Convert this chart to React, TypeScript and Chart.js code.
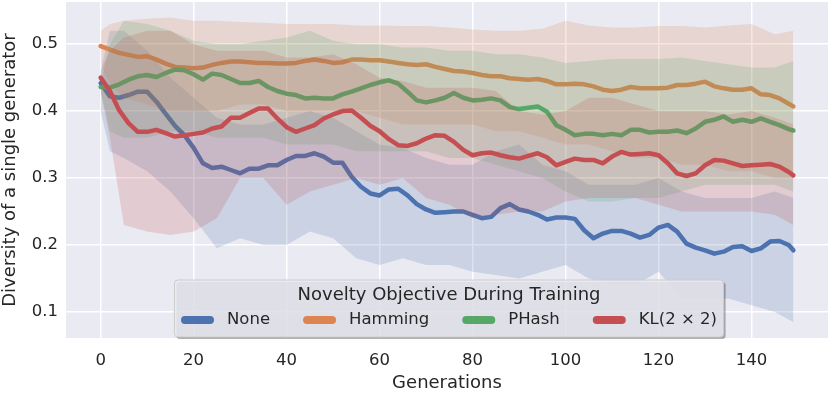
import React, { useEffect, useRef } from 'react';
import { Chart, registerables } from 'chart.js';

Chart.register(...registerables);

// ---------- data ----------
const seriesNames = ['None', 'Hamming', 'PHash', 'KL(2 × 2)'];
const seriesColors = ['#4C72B0', '#DD8452', '#55A868', '#C44E52'];
const xTicks = [0, 20, 40, 60, 80, 100, 120, 140];
const yTicks = [0.1, 0.2, 0.3, 0.4, 0.5];

const lineGens = [
  0, 2, 4, 6, 8, 10, 12, 14, 16, 18, 20, 22, 24, 26, 28, 30, 32, 34, 36, 38,
  40, 42, 44, 46, 48, 50, 52, 54, 56, 58, 60, 62, 64, 66, 68, 70, 72, 74, 76, 78,
  80, 82, 84, 86, 88, 90, 92, 94, 96, 98, 100, 102, 104, 106, 108, 110, 112, 114, 116, 118,
  120, 122, 124, 126, 128, 130, 132, 134, 136, 138, 140, 142, 144, 146, 148, 149,
];

const noneMean = [
  0.442, 0.422, 0.420, 0.424, 0.429, 0.429, 0.414, 0.396, 0.378, 0.364, 0.345, 0.322, 0.315, 0.317, 0.312, 0.307, 0.314, 0.314, 0.319, 0.319,
  0.327, 0.333, 0.333, 0.337, 0.332, 0.323, 0.323, 0.302, 0.287, 0.277, 0.274, 0.283, 0.284, 0.274, 0.261, 0.253, 0.248, 0.249, 0.250, 0.250,
  0.245, 0.240, 0.242, 0.255, 0.261, 0.253, 0.250, 0.245, 0.238, 0.241, 0.241, 0.239, 0.222, 0.210, 0.217, 0.221, 0.221, 0.217, 0.211, 0.215,
  0.226, 0.230, 0.220, 0.202, 0.196, 0.192, 0.187, 0.190, 0.197, 0.198, 0.191, 0.195, 0.205, 0.206, 0.200, 0.192,
];
const hammingMean = [
  0.497, 0.492, 0.487, 0.484, 0.481, 0.482, 0.477, 0.471, 0.466, 0.465, 0.464, 0.465, 0.469, 0.472, 0.474, 0.474, 0.473, 0.472, 0.472, 0.471,
  0.471, 0.472, 0.475, 0.477, 0.475, 0.472, 0.473, 0.477, 0.477, 0.476, 0.476, 0.474, 0.472, 0.470, 0.469, 0.470, 0.466, 0.463, 0.460, 0.459,
  0.457, 0.454, 0.452, 0.452, 0.449, 0.448, 0.447, 0.448, 0.445, 0.440, 0.440, 0.441, 0.440, 0.437, 0.432, 0.430, 0.432, 0.436, 0.434, 0.434,
  0.434, 0.435, 0.439, 0.439, 0.441, 0.444, 0.437, 0.434, 0.432, 0.432, 0.434, 0.425, 0.424, 0.419, 0.411, 0.407,
];
const phashMean = [
  0.436, 0.435, 0.440, 0.447, 0.452, 0.454, 0.451, 0.457, 0.462, 0.461, 0.455, 0.447, 0.456, 0.454, 0.448, 0.442, 0.442, 0.445, 0.436, 0.430,
  0.426, 0.424, 0.419, 0.420, 0.419, 0.419, 0.425, 0.429, 0.434, 0.439, 0.443, 0.446, 0.441, 0.429, 0.416, 0.413, 0.416, 0.420, 0.427, 0.420,
  0.416, 0.417, 0.419, 0.416, 0.406, 0.403, 0.405, 0.407, 0.399, 0.379, 0.372, 0.364, 0.366, 0.366, 0.364, 0.366, 0.364, 0.372, 0.372, 0.368,
  0.369, 0.369, 0.371, 0.367, 0.374, 0.384, 0.387, 0.392, 0.384, 0.387, 0.384, 0.389, 0.384, 0.379, 0.373, 0.371,
];
const klMean = [
  0.450, 0.430, 0.401, 0.382, 0.369, 0.369, 0.372, 0.367, 0.362, 0.364, 0.366, 0.368, 0.374, 0.377, 0.390, 0.390, 0.397, 0.404, 0.404, 0.389,
  0.376, 0.369, 0.374, 0.379, 0.389, 0.395, 0.400, 0.401, 0.390, 0.378, 0.370, 0.358, 0.349, 0.348, 0.352, 0.359, 0.364, 0.363, 0.354, 0.342,
  0.334, 0.337, 0.338, 0.334, 0.331, 0.329, 0.333, 0.337, 0.331, 0.319, 0.324, 0.329, 0.327, 0.327, 0.322, 0.332, 0.339, 0.335, 0.336, 0.337,
  0.334, 0.322, 0.307, 0.303, 0.307, 0.319, 0.327, 0.326, 0.322, 0.318, 0.319, 0.320, 0.321, 0.317, 0.309, 0.304,
];

const bandGens = [0, 2, 5, 10, 15, 20, 25, 30, 35, 40, 45, 50, 55, 60, 65, 70, 75, 80, 85, 90, 95, 100, 105, 110, 115, 120, 125, 130, 135, 140, 145, 149];

const noneUpper = [0.46, 0.52, 0.52, 0.49, 0.45, 0.42, 0.39, 0.38, 0.38, 0.39, 0.40, 0.39, 0.37, 0.35, 0.345, 0.33, 0.32, 0.32, 0.34, 0.35, 0.32, 0.31, 0.29, 0.29, 0.29, 0.30, 0.28, 0.27, 0.27, 0.27, 0.28, 0.27];
const noneLower = [0.40, 0.34, 0.33, 0.31, 0.28, 0.24, 0.195, 0.21, 0.20, 0.20, 0.22, 0.21, 0.18, 0.17, 0.18, 0.17, 0.17, 0.16, 0.155, 0.15, 0.16, 0.17, 0.15, 0.14, 0.14, 0.16, 0.12, 0.12, 0.12, 0.11, 0.10, 0.085];
const hammingUpper = [0.52, 0.53, 0.535, 0.538, 0.54, 0.535, 0.535, 0.533, 0.532, 0.53, 0.53, 0.53, 0.528, 0.528, 0.527, 0.527, 0.525, 0.522, 0.52, 0.52, 0.523, 0.535, 0.528, 0.525, 0.525, 0.527, 0.527, 0.525, 0.528, 0.53, 0.515, 0.52];
const hammingLower = [0.47, 0.44, 0.42, 0.41, 0.40, 0.40, 0.40, 0.41, 0.41, 0.40, 0.40, 0.40, 0.40, 0.39, 0.38, 0.38, 0.38, 0.38, 0.37, 0.37, 0.36, 0.35, 0.35, 0.34, 0.33, 0.33, 0.32, 0.32, 0.31, 0.31, 0.30, 0.30];
const phashUpper = [0.44, 0.50, 0.535, 0.53, 0.52, 0.505, 0.50, 0.50, 0.505, 0.51, 0.52, 0.505, 0.50, 0.50, 0.495, 0.495, 0.49, 0.49, 0.485, 0.485, 0.48, 0.472, 0.475, 0.478, 0.478, 0.478, 0.48, 0.475, 0.47, 0.465, 0.465, 0.475];
const phashLower = [0.43, 0.37, 0.36, 0.36, 0.37, 0.37, 0.36, 0.36, 0.36, 0.35, 0.35, 0.35, 0.34, 0.34, 0.34, 0.34, 0.33, 0.33, 0.32, 0.31, 0.30, 0.28, 0.265, 0.265, 0.27, 0.27, 0.28, 0.29, 0.29, 0.29, 0.29, 0.28];
const klUpper = [0.46, 0.49, 0.51, 0.52, 0.52, 0.50, 0.49, 0.49, 0.49, 0.48, 0.48, 0.485, 0.47, 0.45, 0.445, 0.435, 0.435, 0.435, 0.43, 0.40, 0.395, 0.40, 0.42, 0.42, 0.41, 0.40, 0.40, 0.40, 0.395, 0.40, 0.39, 0.38];
const klLower = [0.43, 0.36, 0.23, 0.22, 0.215, 0.22, 0.24, 0.30, 0.30, 0.26, 0.28, 0.29, 0.30, 0.29, 0.30, 0.27, 0.26, 0.24, 0.245, 0.25, 0.25, 0.265, 0.27, 0.27, 0.27, 0.26, 0.25, 0.25, 0.25, 0.25, 0.245, 0.23];

const means = [noneMean, hammingMean, phashMean, klMean];
const uppers = [noneUpper, hammingUpper, phashUpper, klUpper];
const lowers = [noneLower, hammingLower, phashLower, klLower];

const TEXT = '#262626';
const FONT = '"DejaVu Sans", sans-serif';

function hexA(hex: string, a: number) {
  const n = parseInt(hex.slice(1), 16);
  return `rgba(${(n >> 16) & 255},${(n >> 8) & 255},${n & 255},${a})`;
}

const bgPlugin = {
  id: 'bgPlugin',
  beforeDraw(chart: any) {
    const { ctx, chartArea } = chart;
    ctx.save();
    ctx.fillStyle = '#ffffff';
    ctx.fillRect(0, 0, chart.width, chart.height);
    ctx.fillStyle = '#EAEAF2';
    ctx.fillRect(chartArea.left, chartArea.top, chartArea.right - chartArea.left, chartArea.bottom - chartArea.top);
    ctx.restore();
  },
};

function roundRect(ctx: CanvasRenderingContext2D, x: number, y: number, w: number, h: number, r: number) {
  ctx.beginPath();
  ctx.moveTo(x + r, y);
  ctx.lineTo(x + w - r, y);
  ctx.quadraticCurveTo(x + w, y, x + w, y + r);
  ctx.lineTo(x + w, y + h - r);
  ctx.quadraticCurveTo(x + w, y + h, x + w - r, y + h);
  ctx.lineTo(x + r, y + h);
  ctx.quadraticCurveTo(x, y + h, x, y + h - r);
  ctx.lineTo(x, y + r);
  ctx.quadraticCurveTo(x, y, x + r, y);
  ctx.closePath();
}

const legendPlugin = {
  id: 'legendPlugin',
  afterDatasetsDraw(chart: any) {
    const { ctx, chartArea } = chart;
    const fs = 16.5;
    const titleFs = 18;
    const handleLen = 33;
    const handlePad = 13;
    const colSpacing = 33;
    const borderPad = 6.6;
    ctx.save();
    ctx.font = `${fs}px ${FONT}`;
    const widths = seriesNames.map((n) => ctx.measureText(n).width);
    const contentW = widths.reduce((s, w) => s + w + handleLen + handlePad, 0) + colSpacing * (seriesNames.length - 1);
    const boxW = contentW + borderPad * 2;
    const cx = (chartArea.left + chartArea.right) / 2 + 2;
    const boxX = cx - boxW / 2;
    const boxBottom = chartArea.bottom - 1;
    const boxH = 57;
    const boxY = boxBottom - boxH;
    // shadow
    ctx.fillStyle = 'rgba(0,0,0,0.3)';
    roundRect(ctx, boxX + 2, boxY + 2, boxW, boxH, 3.5);
    ctx.fill();
    ctx.fillStyle = 'rgba(234,234,242,0.85)';
    roundRect(ctx, boxX, boxY, boxW, boxH, 3.5);
    ctx.fill();
    ctx.strokeStyle = '#CCCCCC';
    ctx.lineWidth = 1;
    ctx.stroke();
    // title
    ctx.fillStyle = TEXT;
    ctx.font = `${titleFs}px ${FONT}`;
    ctx.textAlign = 'center';
    ctx.textBaseline = 'middle';
    ctx.fillText('Novelty Objective During Training', cx, boxY + 15);
    // entries
    ctx.font = `${fs}px ${FONT}`;
    ctx.textAlign = 'left';
    let x = boxX + borderPad;
    const ey = boxY + 40;
    seriesNames.forEach((name, i) => {
      ctx.strokeStyle = seriesColors[i];
      ctx.lineWidth = 8;
      ctx.lineCap = 'round';
      ctx.beginPath();
      ctx.moveTo(x + 4, ey);
      ctx.lineTo(x + handleLen - 4, ey);
      ctx.stroke();
      ctx.fillStyle = TEXT;
      ctx.fillText(name, x + handleLen + handlePad, ey);
      x += handleLen + handlePad + widths[i] + colSpacing;
    });
    ctx.restore();
  },
};

export default function App() {
  const ref = useRef<HTMLCanvasElement | null>(null);

  useEffect(() => {
    if (!ref.current) return;
    const datasets: any[] = [];
    let order = 100;
    means.forEach((m, i) => {
      datasets.push({
        label: seriesNames[i] + ' upper',
        data: bandGens.map((g, k) => ({ x: g, y: uppers[i][k] })),
        borderWidth: 0,
        pointRadius: 0,
        tension: 0,
        fill: '+1',
        backgroundColor: hexA(seriesColors[i], 0.2),
        order: order,
      });
      datasets.push({
        label: seriesNames[i] + ' lower',
        data: bandGens.map((g, k) => ({ x: g, y: lowers[i][k] })),
        borderWidth: 0,
        pointRadius: 0,
        tension: 0,
        fill: false,
        order: order,
      });
      order -= 1;
      datasets.push({
        label: seriesNames[i],
        data: lineGens.map((g, k) => ({ x: g, y: m[k] })),
        borderColor: seriesColors[i],
        borderWidth: 4.5,
        pointRadius: 0,
        tension: 0,
        fill: false,
        borderCapStyle: 'round',
        borderJoinStyle: 'round',
        order: order,
      });
      order -= 1;
    });

    const tickFont = { family: FONT, size: 16.5 };
    const chart = new Chart(ref.current, {
      type: 'line',
      data: { datasets },
      options: {
        responsive: false,
        animation: false,
        devicePixelRatio: 1,
        layout: { padding: { top: 2, right: 2, left: 0, bottom: 0 } },
        plugins: {
          legend: { display: false },
          tooltip: { enabled: false },
        },
        scales: {
          x: {
            type: 'linear',
            min: -7.45,
            max: 156.45,
            afterBuildTicks: (s: any) => {
              s.ticks = xTicks.map((v) => ({ value: v }));
            },
            afterFit: (s: any) => {
              s.height = 56;
              s.paddingLeft = 0;
              s.paddingRight = 0;
            },
            grid: { color: '#ffffff', lineWidth: 1.5, drawTicks: false },
            border: { display: false },
            ticks: { padding: 13, color: TEXT, font: tickFont, maxRotation: 0, autoSkip: false },
            title: { display: true, text: 'Generations', color: TEXT, font: { family: FONT, size: 18 }, padding: 0 },
          },
          y: {
            type: 'linear',
            min: 0.061,
            max: 0.563,
            afterBuildTicks: (s: any) => {
              s.ticks = yTicks.map((v) => ({ value: v }));
            },
            afterFit: (s: any) => {
              s.width = 66;
              s.paddingTop = 0;
              s.paddingBottom = 0;
            },
            grid: { color: '#ffffff', lineWidth: 1.5, drawTicks: false },
            border: { display: false },
            ticks: {
              padding: 8,
              color: TEXT,
              font: tickFont,
              autoSkip: false,
              callback: (v: any) => Number(v).toFixed(1),
            },
            title: {
              display: true,
              text: 'Diversity of a single generator',
              color: TEXT,
              font: { family: FONT, size: 18 },
              padding: { top: 0, bottom: 0 },
            },
          },
        },
      },
      plugins: [bgPlugin, legendPlugin],
    });
    return () => chart.destroy();
  }, []);

  return (
    <div style={{ position: 'absolute', left: 0, top: 0, width: 830, height: 394 }}>
      <canvas ref={ref} width={830} height={394} style={{ width: 830, height: 394 }} />
    </div>
  );
}
